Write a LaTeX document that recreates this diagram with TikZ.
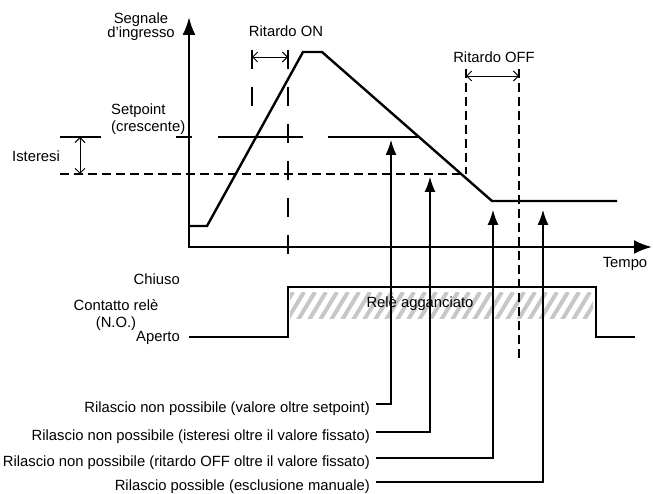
\documentclass[tikz,border=0pt]{standalone}
\usepackage{fontspec}
\setmainfont{Liberation Sans}
\usetikzlibrary{arrows.meta}
\begin{document}
\begin{tikzpicture}[x=1pt, y=-1pt,
    lbl/.style = {inner sep=0, font=\fontsize{14.8}{14}\selectfont},
    axis/.style = {line width=2.4pt, {Latex[length=18pt, width=13pt]}-{Latex[length=18pt, width=14pt]}},
    sig/.style = {line width=2.4pt},
    longdash/.style = {line width=2.4pt, dash pattern=on 19pt off 18pt},
    shortdash/.style = {line width=2.4pt, dash pattern=on 9pt off 5pt},
    span/.style = {line width=0.9pt, {Straight Barb[length=5pt, width=10pt]}-{Straight Barb[length=5pt, width=10pt]}},
    leader/.style = {line width=1.2pt, -{Latex[length=15pt, width=11pt]}},
    hatch/.style = {line width=4pt, black!22}]
        \useasboundingbox (0,0) rectangle (653,494);

        \coordinate (ytop) at (189,17);
        \coordinate (o) at (189,247);
        \coordinate (xend) at (652,247);

        \coordinate (s0) at (189,226);
        \coordinate (s1) at (207,226);
        \coordinate (s2) at (303,52);
        \coordinate (s3) at (322,52);
        \coordinate (s4) at (492,201);
        \coordinate (s5) at (617,201);

        \coordinate (sp0) at (176,137);
        \coordinate (sp1) at (418,137);
        \coordinate (hy0) at (60,174);
        \coordinate (hy1) at (465,174);
        \coordinate (is0) at (60,137);
        \coordinate (is1) at (101,137);

        \coordinate (on1a) at (252,50);
        \coordinate (on1b) at (252,107);
        \coordinate (on2a) at (288,50);
        \coordinate (on2b) at (288,259);
        \coordinate (off1a) at (466,69);
        \coordinate (off1b) at (466,174);
        \coordinate (off2a) at (519,69);
        \coordinate (off2b) at (519,360);

        \coordinate (c0) at (189,337);
        \coordinate (c1) at (288,337);
        \coordinate (c2) at (288,287);
        \coordinate (c3) at (596,287);
        \coordinate (c4) at (596,337);
        \coordinate (c5) at (635,337);

        \coordinate (t1) at (391,140);
        \coordinate (t2) at (430,177);
        \coordinate (t3) at (493,210);
        \coordinate (t4) at (543,210);

        \begin{scope}
            \clip (290,293) rectangle (593,318);
            \foreach \x in {276,287,...,600}
                \draw[hatch] (\x,320) -- ++(17,-28);
        \end{scope}

        \draw[axis] (ytop) -- (o) -- (xend);
        \draw[sig] (s0) -- (s1) -- (s2) -- (s3) -- (s4) -- (s5);
        \draw[line width=2.4pt, dash pattern=on 16pt off 26pt on 85pt off 25pt on 90pt off 10pt] (sp0) -- (sp1);
        \draw[sig] (is0) -- (is1);
        \draw[shortdash] (hy0) -- (hy1);
        \draw[span] (80,137) -- (80,174);

        \draw[longdash] (on1a) -- (on1b);
        \draw[longdash] (on2a) -- (on2b);
        \draw[span] (252,57) -- (288,57);
        \draw[shortdash] (off1a) -- (off1b);
        \draw[shortdash] (off2a) -- (off2b);
        \draw[span] (466,76) -- (519,76);

        \draw[sig] (c0) -- (c1) -- (c2) -- (c3) -- (c4) -- (c5);

        \node[lbl, align=center, anchor=base] (sig) at (141,38) {Segnale\\d’ingresso};
        \node[lbl, anchor=base] (ron) at (286,37) {Ritardo ON};
        \node[lbl, align=left, anchor=base west] (set) at (111,132) {Setpoint\\[3pt](crescente)};
        \node[lbl, anchor=base west] (ist) at (12,162) {Isteresi};
        \node[lbl, anchor=base] (roff) at (494,63) {Ritardo OFF};
        \node[lbl, anchor=base] (tempo) at (625,268) {Tempo};
        \node[lbl, anchor=base east] (chiuso) at (180,285) {Chiuso};
        \node[lbl, align=center, anchor=base] (cont) at (116,327) {Contatto relè\\[3pt](N.O.)};
        \node[lbl, anchor=base east] (aperto) at (180,341) {Aperto};
        \node[lbl, anchor=base] (agg) at (420,308) {Relè agganciato};

        \node[lbl, anchor=base east] (r1) at (370,412) {Rilascio non possibile (valore oltre setpoint)};
        \node[lbl, anchor=base east] (r2) at (370,440) {Rilascio non possibile (isteresi oltre il valore fissato)};
        \node[lbl, anchor=base east] (r3) at (370,466) {Rilascio non possibile (ritardo OFF oltre il valore fissato)};
        \node[lbl, anchor=base east] (r4) at (370,490) {Rilascio possible (esclusione manuale)};

        \draw[leader] ([shift={(6,-8)}]r1.base east) -| (t1);
        \draw[leader] ([shift={(6,-8)}]r2.base east) -| (t2);
        \draw[leader] ([shift={(6,-8)}]r3.base east) -| (t3);
        \draw[leader] ([shift={(6,-8)}]r4.base east) -| (t4);
    \end{tikzpicture}
\end{document}
